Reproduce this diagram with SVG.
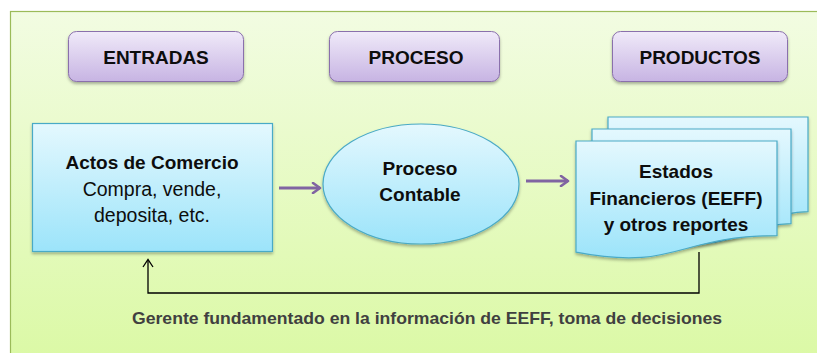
<svg xmlns="http://www.w3.org/2000/svg" width="817" height="353" viewBox="0 0 817 353">
  <defs>
    <linearGradient id="bg" x1="0" y1="0" x2="0" y2="1">
      <stop offset="0" stop-color="#f2fce2"/>
      <stop offset="1" stop-color="#dbf9a5"/>
    </linearGradient>
    <linearGradient id="purple" x1="0" y1="0" x2="0" y2="1">
      <stop offset="0" stop-color="#f0eaf9"/>
      <stop offset="1" stop-color="#c7b4e3"/>
    </linearGradient>
    <linearGradient id="blue" x1="0" y1="0" x2="0" y2="1">
      <stop offset="0" stop-color="#e4f8fe"/>
      <stop offset="1" stop-color="#9ce4fa"/>
    </linearGradient>
    <filter id="sh" x="-10%" y="-10%" width="120%" height="130%">
      <feDropShadow dx="0" dy="2" stdDeviation="1.5" flood-color="#000" flood-opacity="0.3"/>
    </filter>
    <marker id="ap" viewBox="0 0 12 12" refX="10" refY="6" markerWidth="12" markerHeight="12" orient="auto" markerUnits="userSpaceOnUse">
      <path d="M3,1 L10,6 L3,11" fill="none" stroke="#8064a2" stroke-width="2.6" stroke-linecap="round" stroke-linejoin="round"/>
    </marker>
    <style>
      .hdr { fill: url(#purple); stroke: #8a70ac; stroke-width: 1; filter: url(#sh); }
      .blk { fill: url(#blue); stroke: #4aaac6; stroke-width: 1.2; filter: url(#sh); }
      .t { font-family: "Liberation Sans", Arial, sans-serif; fill: #0d0d0d; text-anchor: middle; }
      .b { font-weight: bold; }
      .arr { stroke: #8064a2; stroke-width: 3; fill: none; marker-end: url(#ap); }
      .fb { stroke: #000; stroke-width: 1.3; fill: none; }
    </style>
  </defs>

  <rect x="10.5" y="11.5" width="815" height="350" fill="url(#bg)" stroke="#9bbb59" stroke-width="1.2"/>

  <g id="entradas">
    <rect class="hdr" x="68.5" y="31.5" width="175" height="50" rx="8"/>
    <text class="t b" x="156" y="64" font-size="19">ENTRADAS</text>
  </g>
  <g id="proceso">
    <rect class="hdr" x="329.5" y="31.5" width="170" height="50" rx="8"/>
    <text class="t b" x="416" y="64" font-size="19">PROCESO</text>
  </g>
  <g id="productos">
    <rect class="hdr" x="612.5" y="31.5" width="175" height="50" rx="8"/>
    <text class="t b" x="700" y="64" font-size="19">PRODUCTOS</text>
  </g>

  <g id="actos">
    <rect class="blk" x="32.5" y="123.5" width="240" height="128"/>
    <text class="t b" x="152" y="169" font-size="19">Actos de Comercio</text>
    <text class="t" x="152" y="196" font-size="19.5">Compra, vende,</text>
    <text class="t" x="152" y="222" font-size="19.5">deposita, etc.</text>
  </g>

  <g id="proceso-contable">
    <ellipse class="blk" cx="421" cy="184" rx="98" ry="60"/>
    <text class="t b" x="420" y="175" font-size="19">Proceso</text>
    <text class="t b" x="420" y="201" font-size="19">Contable</text>
  </g>

  <g id="estados">
    <path class="blk" d="M608,117 H808 V211.6 C758,211.6 758,247.6 608,228.2 Z"/>
    <path class="blk" d="M592,129 H791 V223.6 C741.5,223.6 741.5,259.6 592,240.2 Z"/>
    <path class="blk" d="M576,141 H777 V235.6 C676.5,235.6 676.5,271.6 576,252.2 Z"/>
    <text class="t b" x="676" y="178" font-size="19">Estados</text>
    <text class="t b" x="676" y="205" font-size="19">Financieros (EEFF)</text>
    <text class="t b" x="676" y="231" font-size="19">y otros reportes</text>
  </g>

  <g id="connectors">
    <line class="arr" x1="279" y1="188" x2="320" y2="188"/>
    <line class="arr" x1="526" y1="181" x2="568" y2="181"/>
    <polyline class="fb" points="699,252 699,293 148,293 148,260"/>
    <polyline class="fb" points="143,267 148,259.5 153,267"/>
  </g>

  <g id="feedback-label">
    <text class="t b" x="427" y="324" font-size="17" style="fill:#404040" textLength="590" lengthAdjust="spacingAndGlyphs">Gerente fundamentado en la información de EEFF, toma de decisiones</text>
  </g>
</svg>
